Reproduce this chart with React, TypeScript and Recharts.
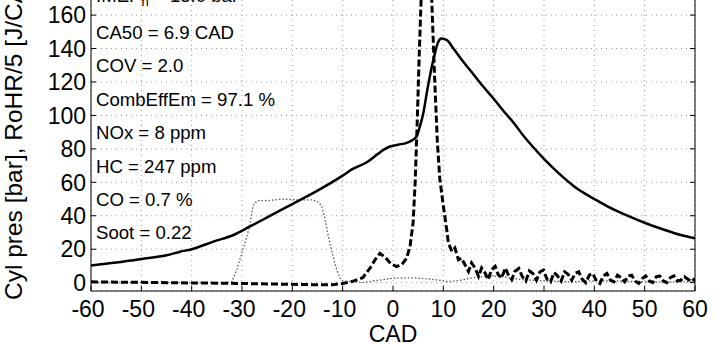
import { LineChart, Line, XAxis, YAxis, CartesianGrid, Customized } from 'recharts';

const FONT = '"Liberation Sans", Arial, Helvetica, sans-serif';

const xTicks = [-60, -50, -40, -30, -20, -10, 0, 10, 20, 30, 40, 50, 60];
const yTicks = [0, 20, 40, 60, 80, 100, 120, 140, 160];

// cylinder pressure [bar]
const pressureCad = [-60, -55, -50, -45, -42.3, -40, -35.7, -31.7, -28.4, -25, -20, -15, -10, -8, -5.2, -3, -1.9, -0.6, 1, 2.7, 4, 4.7, 5.3, 6, 6.8, 7.7, 8.4, 9, 9.6, 10.7, 12, 14, 16, 18, 20, 22, 24, 26, 28, 30, 32, 34, 36, 38, 40, 43, 46, 50, 54, 57, 60];
const pressureBar = [10.3, 12, 14.1, 16.4, 18.5, 20, 24.5, 28.5, 33.6, 39, 47, 55, 64, 68, 72, 77, 79.4, 81.4, 82.5, 83.6, 85.5, 87.5, 93, 101, 115, 129, 138, 144, 146, 145, 140, 132, 124.5, 117, 110, 102.5, 95.5, 87.5, 80.5, 74, 68, 62.5, 57.5, 53.5, 50, 45, 40.8, 35.8, 31.5, 28.6, 26.5];

// rate of heat release / 5 [J/CAD]
const rohrCad = [-60, -55, -50, -45, -40, -35, -30, -25, -20, -15, -12, -10, -8, -6, -4.5, -3.5, -2.6, -1.5, -0.5, 0.7, 1.8, 2.7, 3.4, 4, 4.4, 4.8, 5.2, 5.7, 6.2, 6.7, 7.2, 7.7, 8.3, 8.8, 9.3, 10, 10.7, 11, 11.7, 12.3, 13, 13.6, 14.3, 15, 15.6, 16.3, 17, 17.6, 18.3, 18.9, 19.6, 20.3, 20.9, 21.6, 22.3, 22.9, 23.6, 24.2, 25, 25.7, 26.4, 27.1, 27.8, 28.5, 29.2, 29.9, 30.6, 31.3, 32, 32.7, 33.4, 34.1, 34.8, 35.5, 36.2, 36.9, 37.6, 38.3, 39, 39.7, 40.4, 41.1, 41.8, 42.5, 43.2, 43.9, 44.6, 45.3, 46, 46.7, 47.4, 48.1, 48.8, 49.5, 50.2, 50.9, 51.6, 52.3, 53, 53.7, 54.4, 55.1, 55.8, 56.5, 57.2, 57.9, 58.6, 59.3, 60];
const rohrVal = [0.5, 0.3, 0.2, 0, -0.2, -0.3, -0.5, -0.8, -1, -1.3, -1.2, -0.5, 0.8, 3, 9, 14, 17.5, 15, 11.5, 9.6, 11, 14.5, 22, 36, 60, 95, 135, 180, 220, 240, 215, 169, 120, 85, 62, 46, 31, 23.7, 18.7, 20.7, 13.7, 14.7, 10.7, 6.7, 11.8, 8.8, 3.8, 8.8, 5.8, 1.8, 7.8, 9.7, 4.8, 2.8, 8.8, 4.8, 1.8, 6.7, 8.5, 3.5, 1, 7, 5.5, 1.5, 6.5, 7.5, 2, 0.5, 6, 4, 1, 6.5, 5, 1.5, 5.5, 6.5, 2, 0, 4.5, 5.5, 1, -0.5, 4, 5.5, 1.5, 0.5, 4.5, 3, 0.5, 4, 4.5, 1, -0.5, 2.5, 4, 1, 0, 3.5, 4, 1, 0, 3, 4, 1, 1.5, 3.5, 2, 0.5, 2.5];

// injector signal (dotted)
const injCad = [-60, -33, -32, -31, -30, -29, -28.4, -27.8, -27, -25, -22, -19, -16, -15, -14.2, -13.5, -13, -12.5, -12, -11.5, -11, -10.5, -10, -8, -6, -4, -2, 0, 2, 4.7, 7, 8.8, 11, 13.6, 16, 19, 22, 25, 30, 35, 40, 45, 50, 55, 60];
const injVal = [0, 0, 0.5, 8, 18, 28, 35, 46, 49, 49, 50, 49.5, 49.5, 48.5, 46, 38, 30, 23, 17, 11, 6, 2.5, 1, 0.5, 0, 1, 1.8, 2.6, 2.8, 2.8, 2.2, 1.6, 0.6, 1.5, 3, 4, 3.5, 2, 1, 0.5, 1, 1, 0.5, 0.5, 0.5];

const notes = ['CA50 = 6.9 CAD', 'COV = 2.0', 'CombEffEm = 97.1 %', 'NOx = 8 ppm', 'HC = 247 ppm', 'CO = 0.7 %', 'Soot = 0.22'];

const toPoints = (xs: number[], ys: number[]) => xs.map((cad, i) => ({ cad, v: ys[i] }));

const pressure = toPoints(pressureCad, pressureBar);
const rohr = toPoints(rohrCad, rohrVal);
const inj = toPoints(injCad, injVal);

const LeftTick = ({ x, y, payload }: any) => (
  <g>
    <line x1={x} x2={x + 5} y1={y} y2={y} stroke="#000" />
    <text x={x - 5} y={y} dy="0.36em" textAnchor="end" fontSize={23} fontFamily={FONT} fill="#000">
      {payload.value}
    </text>
  </g>
);

const RightTick = ({ x, y }: any) => <line x1={x} x2={x - 5} y1={y} y2={y} stroke="#000" />;

const BottomTick = ({ x, y, payload }: any) => (
  <g>
    <line x1={x} x2={x} y1={y} y2={y - 5} stroke="#000" />
    <text x={payload.value < 0 ? x - 3 : x} y={y + 26} textAnchor="middle" fontSize={23} fontFamily={FONT} fill="#000">
      {payload.value}
    </text>
  </g>
);

const Notes = () => (
  <g fontFamily={FONT} fontSize={18.6} fill="#000">
    <text x={96} y={22}>
      IMEP<tspan dy={4} fontSize={13}>n</tspan>
      <tspan dy={-4}> = 15.0 bar</tspan>
    </text>
    {notes.map((t, i) => (
      <text key={t} x={96} y={59 + i * 33.4}>
        {t}
      </text>
    ))}
  </g>
);

export default function App() {
  return (
    <div style={{ position: 'absolute', left: 0, top: -20, background: '#fff' }}>
      <LineChart width={721} height={364} margin={{ top: 10, right: 25, bottom: 0, left: 0 }}>
        <CartesianGrid stroke="#999" strokeDasharray="1 4" />
        <XAxis
          type="number"
          dataKey="cad"
          domain={[-60, 60]}
          ticks={xTicks}
          interval={0}
          allowDataOverflow
          tickSize={0}
          tickMargin={0}
          tick={<BottomTick />}
          height={53}
          axisLine={{ stroke: '#000' }}
          label={({ viewBox }: any) => (
            <text x={viewBox.x + viewBox.width / 2} y={viewBox.y + 51} textAnchor="middle" fontSize={23} fontFamily={FONT}>
              CAD
            </text>
          )}
        />
        <YAxis
          domain={[-5, 175]}
          ticks={yTicks}
          interval={0}
          allowDataOverflow
          tickSize={0}
          tickMargin={0}
          tick={<LeftTick />}
          width={91}
          axisLine={{ stroke: '#000' }}
          label={() => (
            <text transform="translate(22, 320) rotate(-90)" textAnchor="start" fontSize={24.5} fontFamily={FONT}>
              Cyl pres [bar], RoHR/5 [J/CAD]
            </text>
          )}
        />
        <YAxis
          yAxisId="r"
          orientation="right"
          domain={[-5, 175]}
          ticks={yTicks}
          interval={0}
          allowDataOverflow
          tickSize={0}
          tickMargin={0}
          tick={<RightTick />}
          width={1}
          axisLine={{ stroke: '#000' }}
        />
        <Line data={inj} dataKey="v" type="linear" stroke="#555" strokeWidth={1.3} strokeDasharray="1.5 2" dot={false} isAnimationActive={false} />
        <Line data={rohr} dataKey="v" type="linear" stroke="#000" strokeWidth={3} strokeDasharray="7 3" dot={false} isAnimationActive={false} />
        <Line data={pressure} dataKey="v" type="monotone" stroke="#000" strokeWidth={2.5} dot={false} isAnimationActive={false} />
        <Customized component={Notes} />
      </LineChart>
    </div>
  );
}
